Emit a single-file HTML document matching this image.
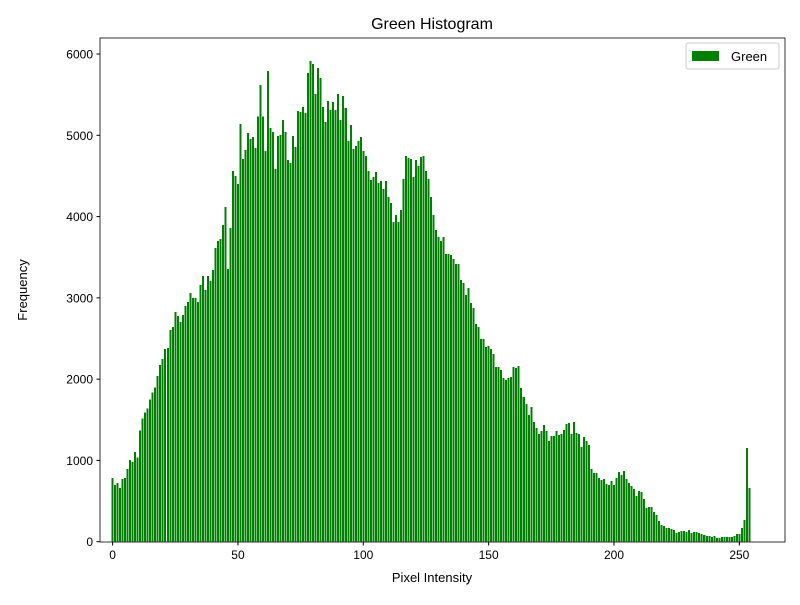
<!DOCTYPE html>
<html><head><meta charset="utf-8"><style>body{margin:0;background:#fff}svg text{font-family:"Liberation Sans","DejaVu Sans",sans-serif}</style></head>
<body>
<svg id="chart" width="800" height="600" xmlns="http://www.w3.org/2000/svg">
<rect width="800" height="600" fill="#fff"/>
<text x="432" y="29" font-size="16" text-anchor="middle">Green Histogram</text>
<g id="bars" shape-rendering="crispEdges"></g>
<g id="axes"></g>
<g>
<rect x="686" y="43" width="93" height="26" rx="2" fill="#fff" stroke="#ccc"/>
<rect x="692" y="51" width="27" height="10" fill="green"/>
<text x="731" y="61" font-size="13">Green</text>
</g>
<text x="432" y="582" font-size="13" text-anchor="middle">Pixel Intensity</text>
<text x="27" y="290" font-size="13" text-anchor="middle" transform="rotate(-90 27 290)">Frequency</text>
</svg>
<script>
const bins=[];for(let i=0;i<256;i++)bins.push(i);
const counts=[783,697,722,660,771,783,894,1004,980,1103,1037,1370,1517,1591,1640,1751,1837,1898,2038,2173,2247,2370,2382,2604,2641,2825,2776,2702,2788,2899,2948,3058,2997,2997,2948,3157,3268,3096,3268,3206,3341,3612,3698,3723,3895,4116,3354,3858,4559,4497,4399,5137,4707,4817,5026,4952,4977,4842,5231,5617,5231,4805,5789,5088,5039,4584,4989,5002,5187,5039,4694,4657,4989,4854,5297,5285,5346,5273,5765,5912,5875,5506,5826,5703,5346,5162,5420,5310,5408,5310,5506,5186,5482,5334,4928,5125,4830,4866,4928,4977,4805,4743,4559,4448,4485,4547,4411,4436,4338,4436,4239,4165,3936,4018,3932,4079,4461,4743,4719,4706,4485,4694,4620,4731,4743,4559,4461,4239,4018,3834,3747,3698,3747,3538,3538,3526,3477,3415,3415,3219,3182,3034,3120,2936,2874,2677,2640,2493,2493,2394,2407,2370,2308,2148,2148,2112,2013,1989,2013,2025,2148,2136,2161,1890,1779,1693,1558,1656,1472,1398,1324,1361,1435,1361,1238,1300,1300,1361,1312,1324,1374,1447,1460,1324,1472,1337,1324,1164,1287,1238,1189,894,845,845,783,759,771,709,697,746,697,783,857,820,869,771,722,685,648,562,623,611,525,414,427,427,365,328,254,205,193,168,168,156,144,107,119,131,131,119,144,107,119,119,107,94,82,70,70,57,70,45,45,57,57,57,57,57,70,94,94,168,266,1152,660];
const xTicks=[0,50,100,150,200,250];
const yTicks=[0,1000,2000,3000,4000,5000,6000];
const L=100,R=785,T=38,B=542;
const xs=v=>112.6+v*2.507;
const ys=v=>541.7-v*0.08128;
const NS="http://www.w3.org/2000/svg";
const bg=document.getElementById('bars');
bins.forEach((b,i)=>{const r=document.createElementNS(NS,'rect');


const w=0.8*2.507;r.setAttribute('x',xs(b)-w/2);r.setAttribute('width',w);
r.setAttribute('y',ys(counts[i]));r.setAttribute('height',ys(0)-ys(counts[i]));r.setAttribute('fill','green');bg.appendChild(r);});
const ax=document.getElementById('axes');
const fr=document.createElementNS(NS,'rect');


fr.setAttribute('x',L);fr.setAttribute('y',T);fr.setAttribute('width',R-L);fr.setAttribute('height',B-T);fr.setAttribute('fill','none');fr.setAttribute('stroke','#000');fr.setAttribute('stroke-width','0.8');ax.appendChild(fr);
xTicks.forEach(t=>{const l=document.createElementNS(NS,'line');


l.setAttribute('x1',xs(t));l.setAttribute('x2',xs(t));l.setAttribute('y1',B);l.setAttribute('y2',B+3.5);l.setAttribute('stroke','#000');ax.appendChild(l);
const tx=document.createElementNS(NS,'text');


tx.setAttribute('x',xs(t));tx.setAttribute('y',B+17);tx.setAttribute('font-size','12');tx.setAttribute('text-anchor','middle');tx.textContent=t;ax.appendChild(tx);});
yTicks.forEach(t=>{const l=document.createElementNS(NS,'line');


l.setAttribute('x1',L-3.5);l.setAttribute('x2',L);l.setAttribute('y1',ys(t));l.setAttribute('y2',ys(t));l.setAttribute('stroke','#000');ax.appendChild(l);
const tx=document.createElementNS(NS,'text');


tx.setAttribute('x',L-7);tx.setAttribute('y',ys(t)+4.5);tx.setAttribute('font-size','12');tx.setAttribute('text-anchor','end');tx.textContent=t;ax.appendChild(tx);});
</script>
</body></html>
